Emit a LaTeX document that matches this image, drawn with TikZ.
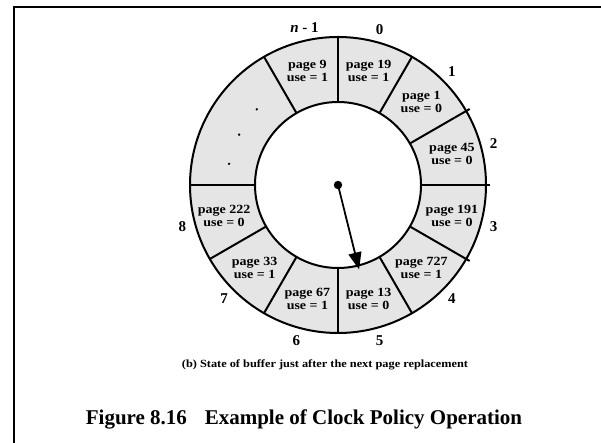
\documentclass[tikz,border=0pt]{standalone}
\usepackage{fontspec}
\setmainfont{Liberation Serif}
\newfontfamily\widefont[FakeStretch=1.12]{Liberation Serif}
\usetikzlibrary{calc,arrows.meta}

\begin{document}
\begin{tikzpicture}[x=1pt,y=1pt,
    slot/.style={font=\widefont\bfseries\fontsize{12.5}{13}\selectfont, align=center, inner sep=0pt},
    idx/.style={font=\bfseries\fontsize{15}{15}\selectfont, inner sep=0pt},
    ring/.style={line width=2pt}]
    \useasboundingbox (0,0) rectangle (601,443);

    % Define the radii and the centre of the clock
    \def\ro{148}  % outer radius
    \def\ri{83}   % inner radius
    \def\rt{118}  % radius of the slot texts
    \def\rl{161}  % radius of the index labels
    \coordinate (O) at (338,258);

    % Frame
    \draw[line width=2.5pt] (14,0) -- (14,436) -- (601,436);

    % Draw the ring of buffer slots
    \fill[gray!20] (O) circle (\ro);
    \draw[ring,fill=white] (O) circle (\ri);
    \draw[ring] (O) circle (\ro);
    \foreach \a in {90,60,-60,-90,-120,-150,180,120}
        \draw[ring] ($(O)+(\a:\ri)$) -- ($(O)+(\a:\ro)$);
    \foreach \a in {30,0,-30}
        \draw[ring] ($(O)+(\a:\ri)$) -- ($(O)+(\a:\ro+4)$);

    % Slot contents
    \foreach \a/\p/\u in {105/9/1, 75/19/1, 45/1/0, 15/45/0, -15/191/0,
                          -45/727/1, -75/13/0, -105/67/1, -135/33/1, -165/222/0}
        \node[slot] (s\p) at ($(O)+(\a:\rt)$) {page \p\\use = \u};

    % Dots for the slots left out
    \foreach \a in {137,153,169}
        \fill ($(O)+(\a:111)$) circle (1.3);

    % Index labels
    \foreach \a/\i in {75/0, 45/1, 15/2, -15/3, -45/4, -75/5, -105/6, -135/7, -165/8}
        \node[idx] (l\i) at ($(O)+(\a:\rl)$) {\i};
    \node[idx] (ln) at ($(O)+(102:\rl)$) {\textit{n} - 1};

    % Clock hand
    \coordinate (H) at ($(O)+(-76:87)$);
    \fill (O) circle (4.2);
    \draw[line width=1.8pt,-{Triangle[length=17pt,width=13pt]}] (O) -- (H);

    % Captions
    \node[font=\widefont\bfseries\fontsize{11}{11}\selectfont] (sub) at (325,78)
        {(b) State of buffer just after the next page replacement};
    \node[font=\bfseries\fontsize{21}{21}\selectfont] (title) at (304,24)
        {Figure 8.16\hspace{0.6em} Example of Clock Policy Operation};
\end{tikzpicture}
\end{document}
